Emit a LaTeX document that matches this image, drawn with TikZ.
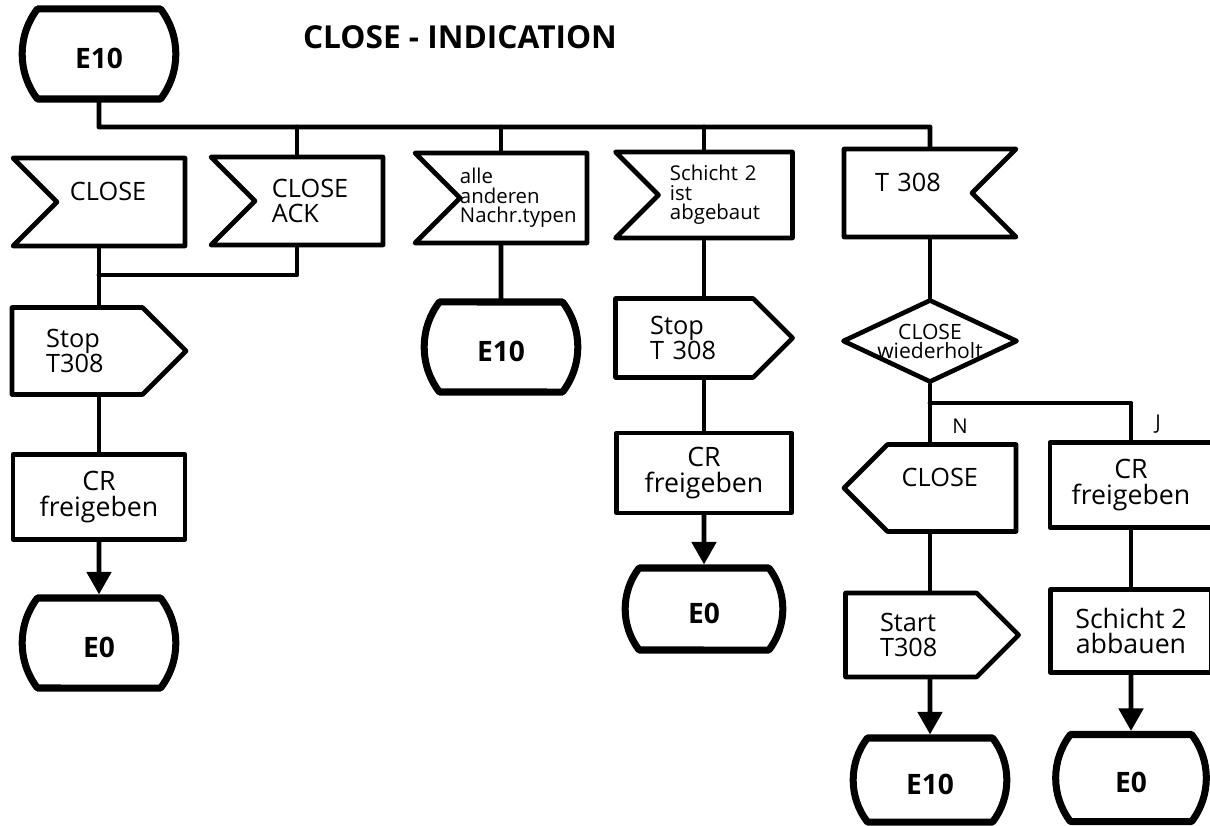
\documentclass[tikz,border=0pt]{standalone}
\usepackage{fontspec}
\setmainfont{Open Sans}
\usetikzlibrary{shapes.symbols,shapes.misc,shapes.geometric,arrows.meta}

\begin{document}
\begin{tikzpicture}[line cap=round,line join=round,>={Triangle[length=16pt,width=17pt]},x=0.025cm,y=-0.025cm,
  flow/.style={line width=3.5pt},
  sig/.style={draw,shape=signal,signal pointer angle=90,line width=3.3pt,inner sep=0pt,align=left,
    minimum width=4.3cm,minimum height=2.2cm,font=\fontsize{18}{17.5}\selectfont},
  rx/.style={sig,signal from=west,signal to=nowhere},
  tmr/.style={sig,signal from=east,signal to=nowhere},
  txr/.style={sig,signal to=east},
  txl/.style={sig,signal to=west},
  task/.style={draw,rectangle,line width=3.3pt,inner sep=0pt,align=center,
    minimum width=4.3cm,minimum height=2.1cm,font=\fontsize{19}{18}\selectfont},
  state/.style={draw,rounded rectangle,rounded rectangle arc length=75,line width=5pt,text height=21pt,
    minimum width=4.075cm,minimum height=2.25cm,font=\fontsize{20}{22}\bfseries\selectfont},
  decide/.style={draw,diamond,line width=3.3pt,inner sep=0pt,minimum width=4.375cm,minimum height=2.075cm},
  small/.style={font=\fontsize{14.5}{13.8}\selectfont},
  one/.style={text depth=15pt}]
\useasboundingbox (0,0) rectangle (1210,826);

\node[state] (start) at (99,54) {E10};
\node[font=\fontsize{22.5}{26}\bfseries\selectfont] (title) at (460,37) {CLOSE - INDICATION};
\coordinate (bus) at (0,127);
\coordinate (col1) at (99,0);
\coordinate (col2) at (297,0);
\coordinate (col3) at (501,0);
\coordinate (col4) at (704,0);
\coordinate (col5) at (930,0);
\coordinate (merge) at (99,275);
\coordinate (fork) at (930,403);

% Eingaenge
\node[rx,one,text width=2.55cm] (rxclose) at (121,202) {CLOSE};
\node[rx,text width=2.35cm] (rxack) at (319,201) {CLOSE\\ACK};
\node[rx,small,text width=3.175cm,minimum height=2.25cm] (rxother) at (523.5,198) {alle\\anderen\\Nachr.typen};
\node[rx,small,text width=2.775cm,minimum width=4.425cm,minimum height=2.15cm] (rxlayer) at (725.5,195) {Schicht 2\\ist\\abgebaut};
\node[tmr,one,text width=1.65cm] (rxtimer) at (908,193) {T 308};

% Spalte 1
\node[txr,text width=1.55cm,minimum width=4.35cm,minimum height=2.175cm] (stop1) at (77.25,351) {Stop\\T308};
\node[task,minimum height=2.125cm] (cr1) at (99,497) {CR\\freigeben};
\node[state] (e01) at (99,643) {E0};

% Spalte 3
\node[state] (e10mid) at (501,347) {E10};

% Spalte 4
\node[txr,text width=1.7cm,minimum width=4.425cm,minimum height=1.975cm] (stop2) at (684.25,338) {Stop\\T 308};
\node[task,minimum width=4.375cm,minimum height=2cm] (cr2) at (704,473) {CR\\freigeben};
\node[state,minimum width=4.175cm,minimum height=2.05cm] (e02) at (704,609) {E0};

% Spalte 5
\node[decide,label={[font=\fontsize{15}{13.5}\selectfont,align=center]center:CLOSE\\wiederholt}] (dec) at (930,341) {};
\node[txl,one,text width=2.5cm,minimum height=2.175cm] (txclose) at (951.75,488) {CLOSE};
\node[txr,text width=1.55cm,minimum width=4.325cm,minimum height=2.1cm] (start2) at (911,635) {Start\\T308};
\node[state,minimum height=2.1cm] (e10end) at (930,780) {E10};

% Spalte 6
\node[task,minimum width=4.05cm,minimum height=2.125cm] (cr3) at (1131,485) {CR\\freigeben};
\node[task,minimum width=4.025cm,minimum height=2.075cm] (rel2) at (1131,631) {Schicht 2\\abbauen};
\node[state,minimum width=4.0cm,minimum height=2.175cm] (e03) at (1131,778) {E0};

\node[small] (lblN) at (960,426) {N};
\node[small] (lblJ) at (1158,424) {J};

% Verbindungen
\draw[flow] (start) -- (start |- bus) -| (rxtimer.north -| col5);
\foreach \n/\c in {rxack/col2,rxother/col3,rxlayer/col4} \draw[flow] (\n.north -| \c) -- (\c |- bus);
\draw[flow] (rxack.south -| col2) |- (merge);
\draw[flow] (rxclose.south -| col1) -- (stop1.north -| col1);
\draw[flow] (stop1.south -| col1) -- (cr1);
\draw[flow,->] (cr1) -- (e01);
\draw[flow] (rxother.south -| col3) -- (e10mid);
\draw[flow] (rxlayer.south -| col4) -- (stop2.north -| col4);
\draw[flow] (stop2.south -| col4) -- (cr2);
\draw[flow,->] (cr2) -- (e02);
\draw[flow] (rxtimer.south -| col5) -- (dec);
\draw[flow] (dec) -- (txclose.north -| col5);
\draw[flow] (fork) -| (cr3);
\draw[flow] (txclose.south -| col5) -- (start2.north -| col5);
\draw[flow,->] (start2.south -| col5) -- (e10end);
\draw[flow] (cr3) -- (rel2);
\draw[flow,->] (rel2) -- (e03);
\end{tikzpicture}
\end{document}
